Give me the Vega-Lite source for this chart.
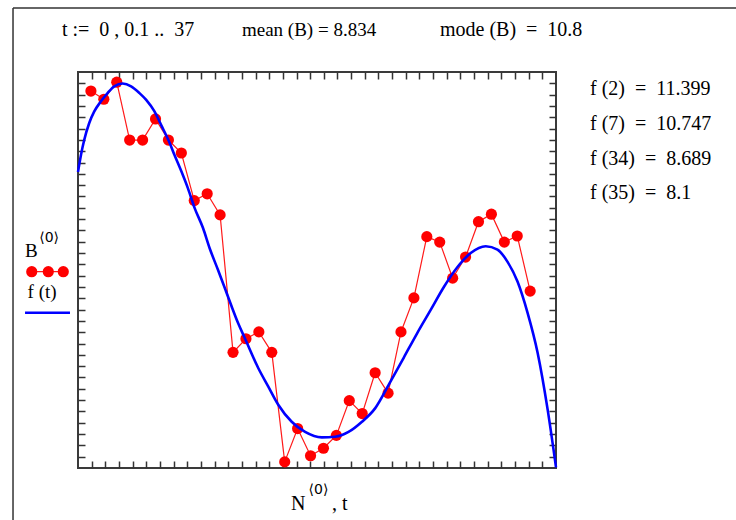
{
  "$schema": "https://vega.github.io/schema/vega-lite/v6.json",
  "width": 478,
  "height": 396,
  "autosize": {"type": "none"},
  "padding": {"left": 78, "top": 72, "right": 180, "bottom": 52},
  "background": "white",
  "config": {"view": {"stroke": "#3a3a3a", "strokeWidth": 2}, "font": "Liberation Serif"},
  "datasets": {
    "B": [
      {"N": 1, "B": 11.52}, {"N": 2, "B": 11.40}, {"N": 3, "B": 11.65}, {"N": 4, "B": 10.80}, {"N": 5, "B": 10.80},
      {"N": 6, "B": 11.11}, {"N": 7, "B": 10.80}, {"N": 8, "B": 10.61}, {"N": 9, "B": 9.91}, {"N": 10, "B": 10.01},
      {"N": 11, "B": 9.70}, {"N": 12, "B": 7.68}, {"N": 13, "B": 7.88}, {"N": 14, "B": 7.98}, {"N": 15, "B": 7.68},
      {"N": 16, "B": 6.07}, {"N": 17, "B": 6.56}, {"N": 18, "B": 6.16}, {"N": 19, "B": 6.27}, {"N": 20, "B": 6.46},
      {"N": 21, "B": 6.97}, {"N": 22, "B": 6.78}, {"N": 23, "B": 7.38}, {"N": 24, "B": 7.08}, {"N": 25, "B": 7.98},
      {"N": 26, "B": 8.48}, {"N": 27, "B": 9.38}, {"N": 28, "B": 9.30}, {"N": 29, "B": 8.77}, {"N": 30, "B": 9.08},
      {"N": 31, "B": 9.60}, {"N": 32, "B": 9.71}, {"N": 33, "B": 9.30}, {"N": 34, "B": 9.39}, {"N": 35, "B": 8.58}
    ],
    "f": [
      {"t": 0, "f": 10.33}, {"t": 0.23, "f": 10.58}, {"t": 0.48, "f": 10.80}, {"t": 0.87, "f": 11.05},
      {"t": 1.26, "f": 11.22}, {"t": 1.78, "f": 11.37}, {"t": 2.29, "f": 11.49}, {"t": 2.81, "f": 11.59},
      {"t": 3.46, "f": 11.63}, {"t": 4.11, "f": 11.59}, {"t": 4.76, "f": 11.49}, {"t": 5.28, "f": 11.39},
      {"t": 5.92, "f": 11.22}, {"t": 6.44, "f": 11.02}, {"t": 7.09, "f": 10.76}, {"t": 7.47, "f": 10.58},
      {"t": 8.0, "f": 10.34}, {"t": 8.51, "f": 10.09}, {"t": 9.03, "f": 9.80}, {"t": 9.67, "f": 9.51},
      {"t": 10.19, "f": 9.21}, {"t": 10.84, "f": 8.89}, {"t": 11.49, "f": 8.56}, {"t": 11.88, "f": 8.36},
      {"t": 12.39, "f": 8.11}, {"t": 12.91, "f": 7.89}, {"t": 13.95, "f": 7.45}, {"t": 14.72, "f": 7.18},
      {"t": 15.50, "f": 6.91}, {"t": 16.54, "f": 6.66}, {"t": 17.58, "f": 6.51}, {"t": 18.87, "f": 6.43},
      {"t": 19.91, "f": 6.44}, {"t": 20.94, "f": 6.51}, {"t": 21.98, "f": 6.66}, {"t": 23.01, "f": 6.86},
      {"t": 24.1, "f": 7.22}, {"t": 25.21, "f": 7.60}, {"t": 26.25, "f": 7.96}, {"t": 27.29, "f": 8.30},
      {"t": 28.32, "f": 8.64}, {"t": 29.36, "f": 8.93}, {"t": 30.40, "f": 9.14}, {"t": 31.56, "f": 9.24},
      {"t": 32.47, "f": 9.19}, {"t": 33.25, "f": 9.01}, {"t": 34.02, "f": 8.72}, {"t": 34.80, "f": 8.26},
      {"t": 35.58, "f": 7.67}, {"t": 36.36, "f": 6.83}, {"t": 37, "f": 5.99}
    ]
  },
  "layer": [
    {
      "data": {"name": "B"},
      "mark": {"type": "line", "color": "#ff1a1a", "strokeWidth": 1.2},
      "encoding": {
        "x": {"field": "N", "type": "quantitative", "scale": {"domain": [0, 37], "nice": false, "zero": false},
          "axis": {"orient": "bottom", "title": null, "labels": false, "domain": false, "grid": false, "tickSize": -7, "tickColor": "#333333", "tickWidth": 1.5,
            "values": [1.0571, 2.1143, 3.1714, 4.2286, 5.2857, 6.3429, 7.4, 8.4571, 9.5143, 10.5714, 11.6286, 12.6857, 13.7429, 14.8, 15.8571, 16.9143, 17.9714, 19.0286, 20.0857, 21.1429, 22.2, 23.2571, 24.3143, 25.3714, 26.4286, 27.4857, 28.5429, 29.6, 30.6571, 31.7143, 32.7714, 33.8286, 34.8857, 35.9429]}},
        "y": {"field": "B", "type": "quantitative", "scale": {"domain": [5.98, 11.8], "nice": false, "zero": false},
          "axis": {"orient": "left", "title": null, "labels": false, "domain": false, "grid": false, "tickSize": -7, "tickColor": "#333333", "tickWidth": 1.5,
            "values": [6.1463, 6.3126, 6.4789, 6.6451, 6.8114, 6.9777, 7.144, 7.3103, 7.4766, 7.6429, 7.8091, 7.9754, 8.1417, 8.308, 8.4743, 8.6406, 8.8069, 8.9731, 9.1394, 9.3057, 9.472, 9.6383, 9.8046, 9.9709, 10.1371, 10.3034, 10.4697, 10.636, 10.8023, 10.9686, 11.1349, 11.3011, 11.4674, 11.6337]}}
      }
    },
    {
      "data": {"name": "B"},
      "mark": {"type": "point", "shape": "circle", "filled": true, "color": "#ff0000", "size": 125, "opacity": 1},
      "encoding": {
        "x": {"field": "N", "type": "quantitative", "axis": {"orient": "top", "title": null, "labels": false, "domain": false, "grid": false, "tickSize": -7, "tickColor": "#333333", "tickWidth": 1.5,
            "values": [1.0571, 2.1143, 3.1714, 4.2286, 5.2857, 6.3429, 7.4, 8.4571, 9.5143, 10.5714, 11.6286, 12.6857, 13.7429, 14.8, 15.8571, 16.9143, 17.9714, 19.0286, 20.0857, 21.1429, 22.2, 23.2571, 24.3143, 25.3714, 26.4286, 27.4857, 28.5429, 29.6, 30.6571, 31.7143, 32.7714, 33.8286, 34.8857, 35.9429]}},
        "y": {"field": "B", "type": "quantitative", "axis": {"orient": "right", "title": null, "labels": false, "domain": false, "grid": false, "tickSize": -7, "tickColor": "#333333", "tickWidth": 1.5,
            "values": [6.1463, 6.3126, 6.4789, 6.6451, 6.8114, 6.9777, 7.144, 7.3103, 7.4766, 7.6429, 7.8091, 7.9754, 8.1417, 8.308, 8.4743, 8.6406, 8.8069, 8.9731, 9.1394, 9.3057, 9.472, 9.6383, 9.8046, 9.9709, 10.1371, 10.3034, 10.4697, 10.636, 10.8023, 10.9686, 11.1349, 11.3011, 11.4674, 11.6337]}}
      }
    },
    {
      "data": {"name": "f"},
      "mark": {"type": "line", "color": "#0000ff", "strokeWidth": 2.6, "interpolate": "monotone"},
      "encoding": {
        "x": {"field": "t", "type": "quantitative", "axis": null},
        "y": {"field": "f", "type": "quantitative", "axis": null}
      }
    },
    {
      "data": {"values": [{}]},
      "mark": {"type": "rule", "color": "#333333", "strokeWidth": 1.5},
      "encoding": {"x": {"datum": -5.03, "axis": null}, "y": {"datum": 12.74, "axis": null}, "y2": {"datum": 5.2}}
    },
    {
      "data": {"values": [{}]},
      "mark": {"type": "rule", "color": "#333333", "strokeWidth": 1.5},
      "encoding": {"x": {"datum": -5.03, "axis": null}, "x2": {"datum": 51}, "y": {"datum": 12.74, "axis": null}}
    },
    {
      "data": {"values": [{}]},
      "mark": {"type": "text", "align": "left", "baseline": "alphabetic", "fontSize": 20, "color": "black"},
      "encoding": {"x": {"datum": -1.24, "axis": null}, "y": {"datum": 12.33, "axis": null}, "text": {"value": "t :=\u00a0 0 , 0.1 ..\u00a0 37"}}
    },
    {
      "data": {"values": [{}]},
      "mark": {"type": "text", "align": "left", "baseline": "alphabetic", "fontSize": 19, "color": "black"},
      "encoding": {"x": {"datum": 12.69, "axis": null}, "y": {"datum": 12.33, "axis": null}, "text": {"value": "mean (B) = 8.834"}}
    },
    {
      "data": {"values": [{}]},
      "mark": {"type": "text", "align": "left", "baseline": "alphabetic", "fontSize": 20, "color": "black"},
      "encoding": {"x": {"datum": 28.02, "axis": null}, "y": {"datum": 12.33, "axis": null}, "text": {"value": "mode (B)\u00a0 =\u00a0 10.8"}}
    },
    {
      "data": {"values": [{}]},
      "mark": {"type": "text", "align": "left", "baseline": "alphabetic", "fontSize": 20, "color": "black", "lineHeight": 34.7},
      "encoding": {"x": {"datum": 39.63, "axis": null}, "y": {"datum": 11.46, "axis": null}, "text": {"value": ["f (2)\u00a0 =\u00a0 11.399", "f (7)\u00a0 =\u00a0 10.747", "f (34)\u00a0 =\u00a0 8.689", "f (35)\u00a0 =\u00a0 8.1"]}}
    },
    {
      "data": {"values": [{}]},
      "mark": {"type": "text", "align": "left", "baseline": "alphabetic", "fontSize": 19, "color": "black"},
      "encoding": {"x": {"datum": -4.1, "axis": null}, "y": {"datum": 9.08, "axis": null}, "text": {"value": "B"}}
    },
    {
      "data": {"values": [{}]},
      "mark": {"type": "text", "align": "left", "baseline": "alphabetic", "fontSize": 14, "color": "black", "font": "DejaVu Sans"},
      "encoding": {"x": {"datum": -3.0, "axis": null}, "y": {"datum": 9.30, "axis": null}, "text": {"value": "⟨0⟩"}}
    },
    {
      "data": {"values": [{}]},
      "mark": {"type": "rule", "color": "#ff1a1a", "strokeWidth": 1.2},
      "encoding": {"x": {"datum": -3.58, "axis": null}, "x2": {"datum": -1.14}, "y": {"datum": 8.865, "axis": null}}
    },
    {
      "data": {"values": [{"p": -3.58}, {"p": -2.30}, {"p": -1.14}]},
      "mark": {"type": "point", "shape": "circle", "filled": true, "color": "#ff0000", "size": 125, "opacity": 1},
      "encoding": {"x": {"field": "p", "type": "quantitative", "axis": null}, "y": {"datum": 8.865, "axis": null}}
    },
    {
      "data": {"values": [{}]},
      "mark": {"type": "text", "align": "left", "baseline": "alphabetic", "fontSize": 19, "color": "black"},
      "encoding": {"x": {"datum": -3.9, "axis": null}, "y": {"datum": 8.48, "axis": null}, "text": {"value": "f (t)"}}
    },
    {
      "data": {"values": [{}]},
      "mark": {"type": "rule", "color": "#0000ff", "strokeWidth": 2.6},
      "encoding": {"x": {"datum": -4.10, "axis": null}, "x2": {"datum": -0.62}, "y": {"datum": 8.262, "axis": null}}
    },
    {
      "data": {"values": [{}]},
      "mark": {"type": "text", "align": "left", "baseline": "alphabetic", "fontSize": 20, "color": "black"},
      "encoding": {"x": {"datum": 16.49, "axis": null}, "y": {"datum": 5.37, "axis": null}, "text": {"value": "N"}}
    },
    {
      "data": {"values": [{}]},
      "mark": {"type": "text", "align": "left", "baseline": "alphabetic", "fontSize": 14, "color": "black", "font": "DejaVu Sans"},
      "encoding": {"x": {"datum": 17.85, "axis": null}, "y": {"datum": 5.60, "axis": null}, "text": {"value": "⟨0⟩"}}
    },
    {
      "data": {"values": [{}]},
      "mark": {"type": "text", "align": "left", "baseline": "alphabetic", "fontSize": 20, "color": "black"},
      "encoding": {"x": {"datum": 19.66, "axis": null}, "y": {"datum": 5.37, "axis": null}, "text": {"value": ", t"}}
    }
  ],
  "resolve": {"axis": {"x": "independent", "y": "independent"}}
}
